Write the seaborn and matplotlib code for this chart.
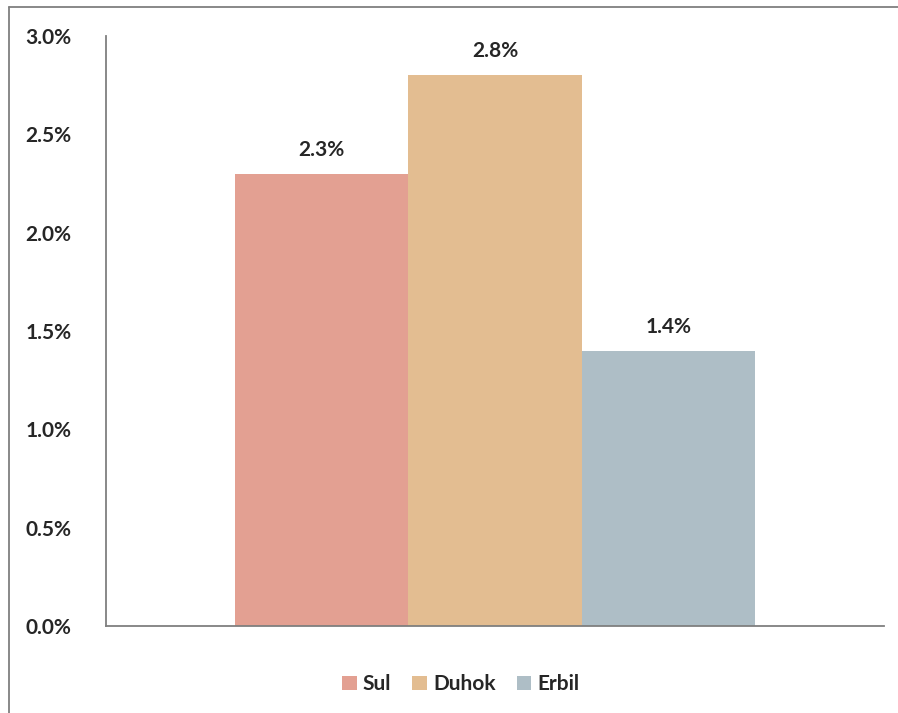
import pandas as pd
import matplotlib.pyplot as plt
import seaborn as sns
from matplotlib.lines import Line2D
from matplotlib.ticker import FuncFormatter

regions = ["Sul", "Duhok", "Erbil"]
rates = [2.3, 2.8, 1.4]  # percent
colors = ["#E3A092", "#E3BD91", "#AEBEC6"]
yticks = [0.0, 0.5, 1.0, 1.5, 2.0, 2.5, 3.0]

df = pd.DataFrame({"group": [""] * len(regions), "region": regions, "rate": rates})

sns.set_style("white")
plt.rcParams["font.family"] = ["Lato", "DejaVu Sans"]

fig = plt.figure(figsize=(8.98, 7.13), dpi=100)
ax = fig.add_axes([106 / 898, 1 - 626 / 713, (884 - 106) / 898, (626 - 36) / 713])

sns.barplot(data=df, x="group", y="rate", hue="region", hue_order=regions,
            palette=colors, width=0.668, saturation=1, linewidth=0, ax=ax, legend=True)

for cont in ax.containers:
    ax.bar_label(cont, labels=[f"{v:.1f}%" for v in cont.datavalues],
                 padding=10, fontsize=15, fontweight="bold")

ax.set_ylim(0, 3.0)
ax.set_xlim(-0.5, 0.5)
ax.set_yticks(yticks)
ax.yaxis.set_major_formatter(FuncFormatter(lambda v, _: f"{v:.1f}%"))
ax.tick_params(axis="y", length=0, pad=25, labelsize=15)
for lbl in ax.get_yticklabels():
    lbl.set_fontweight("bold")
ax.set_xticks([])
ax.set_xlabel("")
ax.set_ylabel("")
for side in ["top", "right"]:
    ax.spines[side].set_visible(False)
for side in ["left", "bottom"]:
    ax.spines[side].set_color("#7f7f7f")
    ax.spines[side].set_linewidth(1.3)

ax.legend(loc="upper center", bbox_to_anchor=(0.456, -0.05), ncol=3, frameon=False,
          handlelength=0.7, handleheight=0.7, handletextpad=0.3, columnspacing=1.0,
          prop={"weight": "bold", "size": 15})

# outer chart border (left and top only are visible)
fig.add_artist(Line2D([8.5 / 898, 8.5 / 898], [0, 1 - 7 / 713], transform=fig.transFigure,
                      color="#7f7f7f", linewidth=1.3))
fig.add_artist(Line2D([8.5 / 898, 1], [1 - 7 / 713, 1 - 7 / 713], transform=fig.transFigure,
                      color="#7f7f7f", linewidth=1.3))

plt.savefig("out.png", dpi=100)
plt.close()
